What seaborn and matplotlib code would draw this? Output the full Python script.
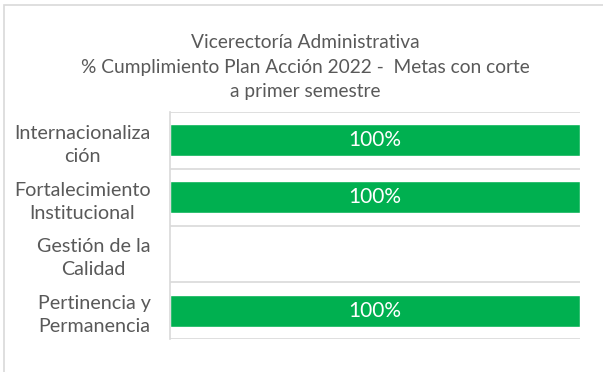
import matplotlib
matplotlib.use("Agg")
import matplotlib.pyplot as plt
import seaborn as sns
import pandas as pd
from matplotlib.patches import Rectangle

# Data
categorias = ["Internacionaliza\nción", "Fortalecimiento\nInstitucional",
              "Gestión de la\nCalidad", "Pertinencia y\nPermanencia"]
cumplimiento = [100, 100, 0, 100]
etiquetas = ["100%", "100%", "", "100%"]

titulo = ("Vicerectoría Administrativa\n"
          "% Cumplimiento Plan Acción 2022 -  Metas con corte\n"
          "a primer semestre")

sns.set_theme(style="white")
plt.rcParams["font.family"] = ["Lato", "DejaVu Sans"]

TEXT = "#595959"
GREEN = "#00B050"
GRID = "#D9D9D9"

df = pd.DataFrame({"categoria": categorias, "valor": cumplimiento})

fig = plt.figure(figsize=(6.03, 3.72), dpi=100)
ax = fig.add_axes([170 / 603, 1 - 339 / 372, 410 / 603, 227 / 372])

sns.barplot(data=df, x="valor", y="categoria", color=GREEN, saturation=1,
            width=0.56, ax=ax, orient="h")

ax.set_xlim(0, 100)
ax.set_ylim(len(categorias) - 0.5, -0.5)
ax.set_xlabel("")
ax.set_ylabel("")
ax.set_xticks([])

# category separators
ax.set_yticks([i - 0.5 for i in range(len(categorias) + 1)], minor=True)
ax.grid(which="minor", axis="y", color=GRID, linewidth=1.2)
ax.tick_params(axis="y", which="both", length=0, pad=14)
for lbl in ax.get_yticklabels():
    lbl.set_fontsize(14.2)
    lbl.set_color(TEXT)
    lbl.set_multialignment("center")
    lbl.set_linespacing(1.42)

for side in ["top", "right", "bottom"]:
    ax.spines[side].set_visible(False)
ax.spines["left"].set_color(GRID)
ax.spines["left"].set_linewidth(1.2)

for i, (v, t) in enumerate(zip(cumplimiento, etiquetas)):
    if t:
        ax.text(v / 2, i, t, ha="center", va="center", color="white",
                fontsize=15)

fig.text(305 / 603, 1 - 67 / 372, titulo, ha="center", va="center",
         fontsize=13.8, color=TEXT, linespacing=1.5)

# chart area frame
fig.patches.append(Rectangle((4 / 603, -0.05), 1.2, 1 - 5 / 372 + 0.05,
                             transform=fig.transFigure, fill=False,
                             edgecolor=GRID, linewidth=1.2))

fig.savefig("out.png", dpi=100, facecolor="white")
